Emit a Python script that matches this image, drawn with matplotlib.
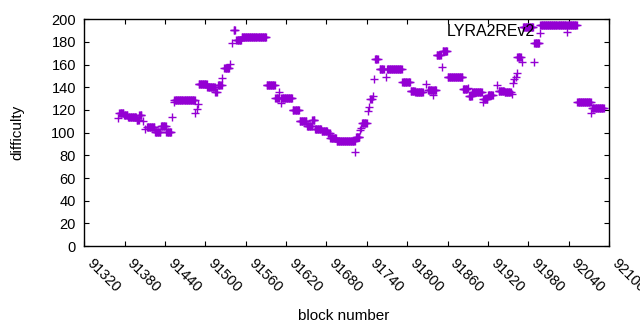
import numpy as np
import matplotlib
matplotlib.use("Agg")
import matplotlib.pyplot as plt
import matplotlib.transforms as mtransforms

plt.rcParams['font.family'] = ['Liberation Sans', 'DejaVu Sans']

# Run-length encoded data: each run covers consecutive blocks with one difficulty
seg_start = [91370, 91372, 91379, 91385, 91398, 91402, 91408, 91410, 91413, 91425,
             91434, 91442, 91451, 91453, 91454, 91485, 91487, 91489, 91490, 91503,
             91515, 91519, 91525, 91528, 91536, 91539, 91542, 91546, 91554, 91591,
             91604, 91610, 91612, 91613, 91630, 91640, 91651, 91659, 91663, 91673,
             91682, 91686, 91695, 91723, 91724, 91730, 91731, 91733, 91742, 91744,
             91745, 91749, 91750, 91752, 91759, 91768, 91770, 91793, 91805, 91812,
             91828, 91831, 91838, 91839, 91844, 91852, 91853, 91860, 91883, 91890,
             91892, 91897, 91912, 91913, 91920, 91934, 91936, 91945, 91956, 91957,
             91959, 91962, 91963, 91964, 91970, 91972, 91988, 91989, 91997, 91998,
             92038, 92039, 92053, 92074, 92075]
seg_end = [91370, 91378, 91384, 91397, 91401, 91405, 91408, 91410, 91424, 91433,
           91441, 91449, 91451, 91453, 91484, 91485, 91487, 91489, 91502, 91514,
           91517, 91524, 91525, 91535, 91536, 91539, 91544, 91553, 91590, 91603,
           91609, 91610, 91612, 91629, 91639, 91650, 91658, 91662, 91672, 91681,
           91685, 91694, 91722, 91723, 91729, 91730, 91731, 91740, 91742, 91744,
           91747, 91749, 91750, 91756, 91765, 91768, 91792, 91804, 91811, 91823,
           91828, 91837, 91838, 91843, 91850, 91852, 91859, 91882, 91889, 91890,
           91896, 91911, 91912, 91919, 91927, 91934, 91944, 91954, 91956, 91957,
           91959, 91962, 91963, 91969, 91970, 91987, 91988, 91996, 91997, 92037,
           92038, 92052, 92073, 92074, 92092]
seg_value = [113, 117, 115.5, 114, 111.5, 116, 110, 103, 105, 100.5,
             106, 101, 113.5, 127, 129, 117, 121, 125, 142.5, 140.5,
             136, 142, 148, 157, 160.5, 179, 190.5, 181.5, 184, 141.8,
             130.6, 135.6, 126, 131, 120, 110.5, 106, 111, 103.5, 101.5,
             99.7, 95.3, 92.5, 82.7, 96.5, 102, 104, 108.5, 119, 123,
             129.7, 132, 147.3, 165, 156, 148.8, 156, 144.7, 136.7, 135.6,
             142.6, 137.6, 133, 137.6, 168.5, 157.7, 172, 149, 138.5, 139.4,
             132, 135.6, 126.8, 129.4, 133, 142, 136.7, 135.6, 133.8, 143.5,
             147.3, 149.4, 152.4, 166.7, 162, 193.5, 162, 179.4, 187.6, 195,
             188.5, 195, 127.3, 117, 122]

blocks = []
diffs = []
for s, e, v in zip(seg_start, seg_end, seg_value):
    for b in range(s, e + 1):
        blocks.append(b)
        diffs.append(v)

x_ticks = list(range(91320, 92101, 60))
y_ticks = list(range(0, 201, 20))

fig = plt.figure(figsize=(6.4, 3.3), dpi=100)
ax = fig.add_axes([0.1317, 0.2545, 0.8198, 0.687])
ax.plot(blocks, diffs, linestyle='none', marker='+', color='#9400d3',
        markersize=6, markeredgewidth=1.0)
ax.set_xlim(91320, 92100)
ax.set_ylim(0, 200)
ax.set_xticks(x_ticks)
ax.set_yticks(y_ticks)
ax.set_xticklabels([str(t) for t in x_ticks], rotation=-45, ha='left', va='center',
                   rotation_mode='anchor', fontsize=10.5)
ax.set_yticklabels([str(t) for t in y_ticks], fontsize=10.5)
ax.tick_params(direction='in', length=3.5, width=0.8, top=True, right=True,
               colors='black', pad=6)
ax.tick_params(axis='x', pad=11)
offset = mtransforms.ScaledTranslation(5 / 100, 0, fig.dpi_scale_trans)
for lbl in ax.get_xticklabels():
    lbl.set_transform(lbl.get_transform() + offset)
for sp in ax.spines.values():
    sp.set_linewidth(1.0)
ax.set_xlabel('block number', fontsize=11, va='center')
ax.set_ylabel('difficulty', fontsize=11, va='center')
ax.xaxis.set_label_coords(0.4935, -0.309)
ax.yaxis.set_label_coords(-0.128, 0.5)
ax.text(0.859, 0.948, 'LYRA2REv2', transform=ax.transAxes, ha='right', va='center',
        fontsize=11.5)
fig.savefig('out.png', dpi=100)
